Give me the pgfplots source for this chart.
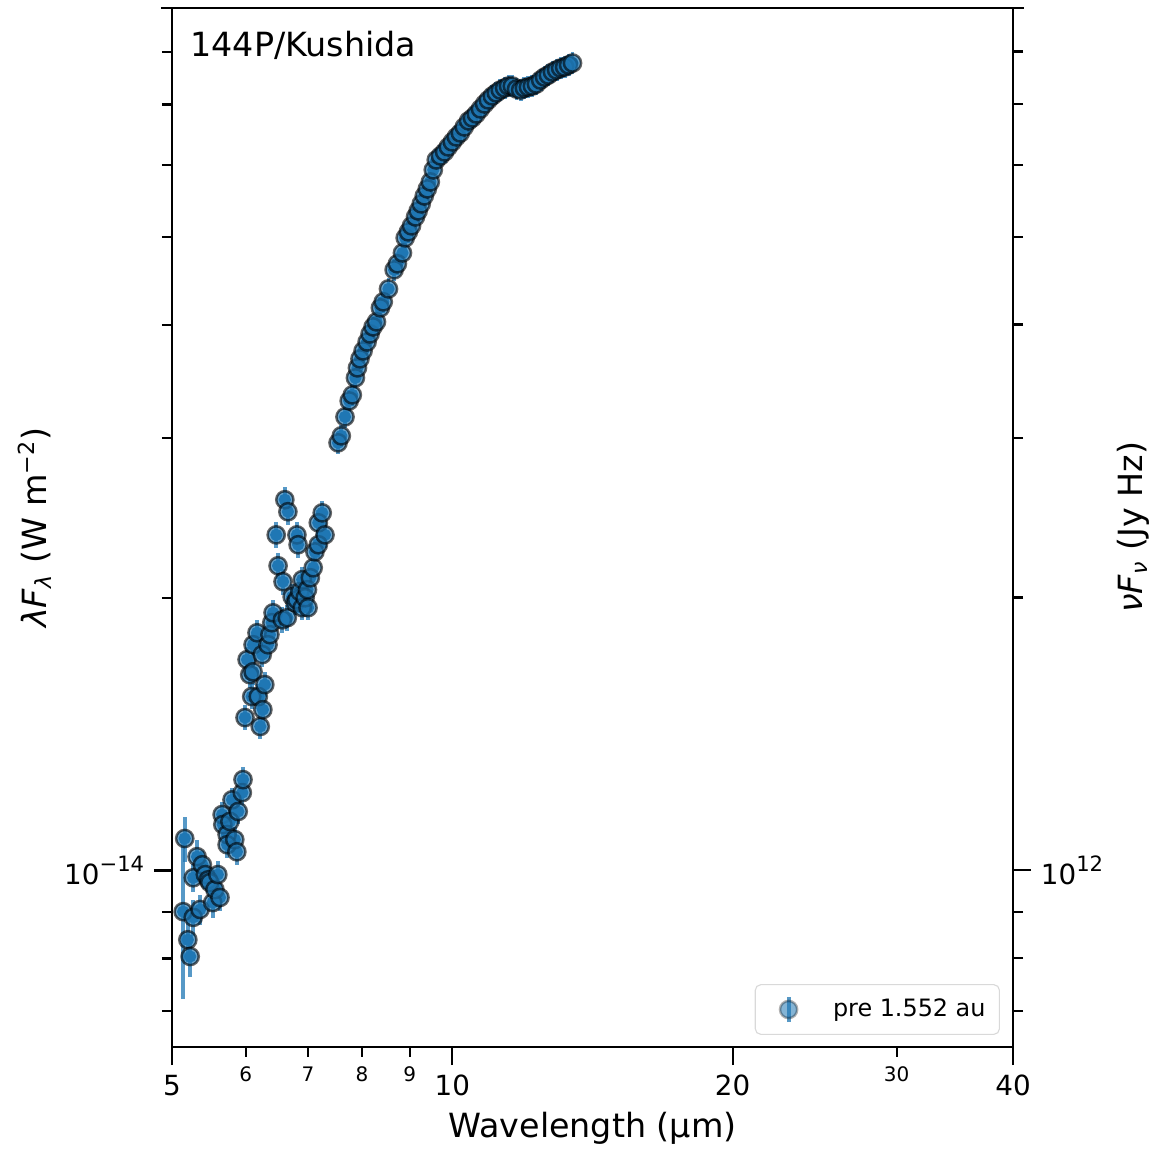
\documentclass[border=0pt]{standalone}
\usepackage{fontspec}
\setmainfont{DejaVu Sans}
\usepackage{pgfplots}
\usepackage{pgfplotstable}
\pgfplotsset{compat=1.18}
\definecolor{c0}{HTML}{1F77B4}

\pgfplotstableread{
x y e
5.14 0.901e-14 0.180e-14
5.16 1.085e-14 0.062e-14
5.20 0.839e-14 0.045e-14
5.23 0.804e-14 0.040e-14
5.27 0.888e-14 0.040e-14
5.27 0.982e-14 0.035e-14
5.32 1.036e-14 0.045e-14
5.36 0.906e-14 0.035e-14
5.39 1.015e-14 0.035e-14
5.43 0.990e-14 0.035e-14
5.47 0.977e-14 0.032e-14
5.49 0.970e-14 0.032e-14
5.53 0.922e-14 0.035e-14
5.56 0.953e-14 0.032e-14
5.60 0.990e-14 0.035e-14
5.63 0.934e-14 0.032e-14
5.66 1.153e-14 0.037e-14
5.67 1.124e-14 0.036e-14
5.73 1.096e-14 0.035e-14
5.73 1.068e-14 0.035e-14
5.77 1.133e-14 0.036e-14
5.80 1.197e-14 0.038e-14
5.84 1.082e-14 0.035e-14
5.87 1.049e-14 0.034e-14
5.89 1.162e-14 0.037e-14
5.95 1.219e-14 0.039e-14
5.96 1.260e-14 0.040e-14
5.99 1.475e-14 0.047e-14
6.02 1.709e-14 0.055e-14
6.06 1.645e-14 0.053e-14
6.09 1.556e-14 0.050e-14
6.11 1.657e-14 0.053e-14
6.11 1.775e-14 0.057e-14
6.17 1.830e-14 0.059e-14
6.19 1.556e-14 0.050e-14
6.22 1.442e-14 0.046e-14
6.25 1.731e-14 0.055e-14
6.26 1.505e-14 0.048e-14
6.29 1.604e-14 0.051e-14
6.34 1.775e-14 0.057e-14
6.37 1.821e-14 0.058e-14
6.40 1.877e-14 0.060e-14
6.42 1.925e-14 0.062e-14
6.47 2.346e-14 0.075e-14
6.50 2.169e-14 0.069e-14
6.57 1.891e-14 0.061e-14
6.58 2.083e-14 0.067e-14
6.61 2.565e-14 0.082e-14
6.65 1.901e-14 0.061e-14
6.66 2.488e-14 0.080e-14
6.73 2.005e-14 0.064e-14
6.78 1.975e-14 0.063e-14
6.81 2.346e-14 0.075e-14
6.81 1.990e-14 0.064e-14
6.83 2.288e-14 0.073e-14
6.86 2.031e-14 0.065e-14
6.90 2.094e-14 0.067e-14
6.90 1.950e-14 0.062e-14
6.95 2.000e-14 0.064e-14
6.99 2.041e-14 0.065e-14
7.00 1.950e-14 0.062e-14
7.04 2.104e-14 0.067e-14
7.09 2.158e-14 0.069e-14
7.12 2.247e-14 0.072e-14
7.18 2.288e-14 0.073e-14
7.18 2.419e-14 0.077e-14
7.25 2.481e-14 0.079e-14
7.30 2.346e-14 0.075e-14
7.54 2.964e-14 0.083e-14
7.60 3.017e-14 0.084e-14
7.67 3.166e-14 0.089e-14
7.75 3.297e-14 0.092e-14
7.81 3.348e-14 0.094e-14
7.87 3.496e-14 0.098e-14
7.91 3.586e-14 0.100e-14
7.96 3.669e-14 0.103e-14
8.02 3.744e-14 0.105e-14
8.10 3.830e-14 0.107e-14
8.16 3.909e-14 0.109e-14
8.22 3.979e-14 0.111e-14
8.29 4.030e-14 0.113e-14
8.37 4.176e-14 0.117e-14
8.43 4.240e-14 0.119e-14
8.54 4.382e-14 0.123e-14
8.66 4.599e-14 0.129e-14
8.73 4.670e-14 0.131e-14
8.84 4.801e-14 0.134e-14
8.90 4.988e-14 0.140e-14
8.97 5.065e-14 0.142e-14
9.04 5.143e-14 0.144e-14
9.13 5.261e-14 0.147e-14
9.19 5.342e-14 0.150e-14
9.26 5.438e-14 0.152e-14
9.33 5.549e-14 0.155e-14
9.40 5.649e-14 0.158e-14
9.47 5.750e-14 0.161e-14
9.54 5.928e-14 0.166e-14
9.61 6.080e-14 0.170e-14
9.71 6.142e-14 0.172e-14
9.81 6.205e-14 0.174e-14
9.90 6.285e-14 0.176e-14
10.00 6.365e-14 0.178e-14
10.10 6.446e-14 0.180e-14
10.20 6.512e-14 0.182e-14
10.30 6.612e-14 0.185e-14
10.41 6.714e-14 0.188e-14
10.51 6.765e-14 0.189e-14
10.61 6.834e-14 0.191e-14
10.72 6.922e-14 0.194e-14
10.83 7.010e-14 0.196e-14
10.93 7.082e-14 0.198e-14
11.04 7.154e-14 0.200e-14
11.15 7.209e-14 0.202e-14
11.26 7.262e-14 0.203e-14
11.38 7.299e-14 0.204e-14
11.49 7.336e-14 0.205e-14
11.60 7.336e-14 0.205e-14
11.72 7.280e-14 0.204e-14
11.84 7.262e-14 0.203e-14
11.95 7.299e-14 0.204e-14
12.07 7.318e-14 0.205e-14
12.19 7.336e-14 0.205e-14
12.31 7.374e-14 0.206e-14
12.44 7.449e-14 0.209e-14
12.56 7.506e-14 0.210e-14
12.68 7.544e-14 0.211e-14
12.81 7.602e-14 0.213e-14
12.94 7.641e-14 0.214e-14
13.07 7.680e-14 0.215e-14
13.20 7.700e-14 0.216e-14
13.33 7.739e-14 0.217e-14
13.46 7.778e-14 0.218e-14
}\data

\begin{document}
\begin{tikzpicture}
\begin{axis}[
  name=ax,
  scale only axis, width=302.8pt, height=374pt,
  xmode=log, ymode=log,
  xmin=5, xmax=40, ymin=6.39e-15, ymax=8.94e-14,
  axis line style={line width=0.8pt},
  tick style={line width=0.8pt, black},
  tick align=outside,
  xtick pos=lower, ytick pos=left,
  major tick length=6.5pt, minor tick length=3.6pt,
  xtick={5,10,20,40}, xticklabels={5,10,20,40},
  extra x ticks={6,7,8,9,30}, extra x tick labels={6,7,8,9,30},
  extra x tick style={major tick length=3.6pt, tick label style={font=\fontsize{7.2}{8}\selectfont}},
  ytick={1e-14}, yticklabels={10\raisebox{0.85ex}{\fontsize{7.6}{8}\selectfont −14}},
  minor ytick={7e-15,8e-15,9e-15,2e-14,3e-14,4e-14,5e-14,6e-14,7e-14,8e-14},
  ticklabel style={font=\fontsize{10}{12}\selectfont},
  xlabel={Wavelength (µm)},
  ylabel={\textit{λF}\textsubscript{\textit{λ}} (W m\textsuperscript{−2})},
  label style={font=\fontsize{12}{14}\selectfont},
  xlabel style={at={(axis description cs:0.5,-0.078)}, anchor=center},
  ylabel style={at={(axis description cs:-0.163,0.5)}, anchor=center},
  legend style={at={(axis description cs:0.9845,0.0116)}, anchor=south east,
    draw=black!15, rounded corners=2pt, font=\fontsize{8.6}{10}\selectfont,
    inner xsep=3pt, inner ysep=3pt},
  legend cell align=left,
]
\addplot[forget plot, only marks, mark=none, c0,
  error bars/.cd, y dir=both, y explicit, error mark=none,
  error bar style={line width=1.4pt, c0, opacity=0.75}]
  table[x=x, y=y, y error=e] {\data};
\addplot[only marks, mark=*, mark size=3.1pt,
  mark options={fill=c0, fill opacity=0.68, draw=black, draw opacity=0.6, line width=0.9pt},
  legend image code/.code={
    \path[draw=none, fill=none] (0pt,0pt) -- (23pt,0pt);
    \draw[c0, opacity=0.75, line width=1.4pt] (9pt,-4.5pt) -- (9pt,4.5pt);
    \draw[fill=c0, fill opacity=0.55, draw=black, draw opacity=0.3, line width=0.9pt] (9pt,0pt) circle (3.1pt);
  }]
  table[x=x, y=y] {\data};
\addlegendentry{pre 1.552 au}
\node[anchor=north west, inner sep=0pt, font=\fontsize{12}{14}\selectfont] at (rel axis cs:0.0214,0.9788) {144P/Kushida};
\end{axis}
\begin{axis}[
  at={(ax.south west)}, anchor=south west,
  scale only axis, width=302.8pt, height=374pt,
  xmode=log, ymode=log,
  xmin=5, xmax=40, ymin=6.39e11, ymax=8.94e12,
  axis x line=none, axis y line*=right,
  axis line style={line width=0.8pt},
  tick style={line width=0.8pt, black},
  tick align=outside,
  major tick length=6.5pt, minor tick length=3.6pt,
  ytick={1e12}, yticklabels={10\raisebox{0.85ex}{\fontsize{7.6}{8}\selectfont 12}},
  minor ytick={7e11,8e11,9e11,2e12,3e12,4e12,5e12,6e12,7e12,8e12},
  ticklabel style={font=\fontsize{10}{12}\selectfont},
  ylabel={\textit{νF}\textsubscript{\textit{ν}} (Jy Hz)},
  label style={font=\fontsize{12}{14}\selectfont},
  ylabel style={at={(axis description cs:1.143,0.5)}, anchor=center, rotate=0},
]
\end{axis}
\draw[line width=0.8pt] ([xshift=-4pt]ax.north west) -- ([xshift=4pt]ax.north east);
\path ([shift={(-61.92pt,-38.52pt)}]ax.south west) rectangle ([shift={(52.56pt,2.88pt)}]ax.north east);
\end{tikzpicture}
\end{document}
